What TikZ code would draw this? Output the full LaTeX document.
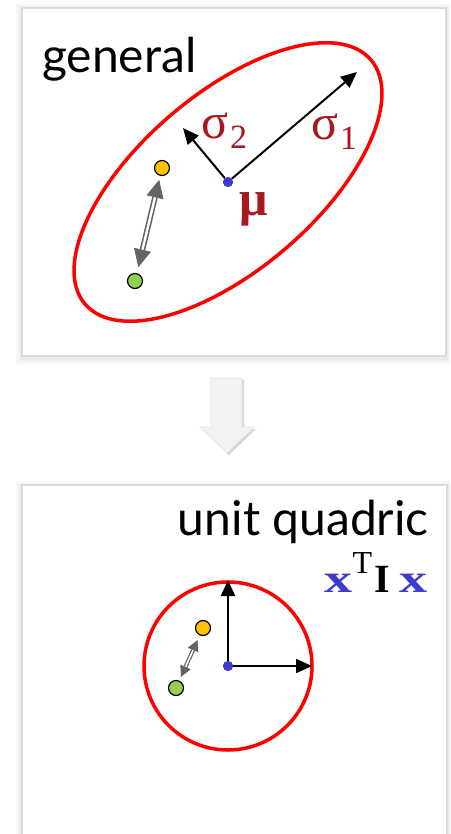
\documentclass[tikz,border=0pt]{standalone}
\usepackage{fontspec}
\setmainfont{Lato}
\newfontfamily\grk{Liberation Serif}
\usetikzlibrary{arrows.meta}
\definecolor{ellred}{RGB}{255,0,0}
\definecolor{lblred}{RGB}{168,24,32}
\definecolor{mublue}{RGB}{60,60,205}
\definecolor{ptorange}{RGB}{255,192,0}
\definecolor{ptgreen}{RGB}{146,208,80}
\definecolor{dblgray}{RGB}{100,100,100}

\begin{document}
\begin{tikzpicture}[x=1pt, y=-1pt, >={Triangle[length=16pt,width=14pt]},
  pt/.style={circle, draw, line width=1.2pt, inner sep=0pt, minimum size=15pt},
  mudot/.style={circle, fill=mublue, inner sep=0pt, minimum size=10pt},
  axis/.style={->, line width=2pt},
  link/.style={{Triangle[length=18pt,width=17pt]}-{Triangle[length=18pt,width=17pt]},
    draw=dblgray, double=white, double distance=2.4pt, line width=1.6pt},
  smalllink/.style={{Triangle[length=11pt,width=11pt]}-{Triangle[length=11pt,width=11pt]},
    draw=dblgray, double=white, double distance=1.6pt, line width=1.2pt},
  lbl/.style={text=lblred, font=\grk\fontsize{50}{50}\selectfont, inner sep=0pt, anchor=base west},
  title/.style={font=\fontsize{48}{48}\selectfont, inner sep=0pt}]
\clip (0,0) rectangle (450,834);
\fill[white] (0,0) rectangle (450,834);
% panels
\foreach \d/\o in {6/3,4/5,2/8} {
  \fill[black!\o] (22-\d,8-\d+2) rectangle (446+\d,356+\d+2);
  \fill[black!\o] (22-\d,485-\d+2) rectangle (447+\d,860);
}
\fill[white, draw=black!14, line width=1.2pt] (22,8) rectangle (446,356);
\fill[white, draw=black!14, line width=1.2pt] (22,485) rectangle (447,860);
% down arrow
\fill[black!16] (213,380) -- (244,380) -- (244,429) -- (256,429) -- (229,455)
  -- (202,429) -- (213,429) -- cycle;
\fill[black!5, draw=black!10, line width=0.6pt] (211,378) -- (242,378) -- (242,427)
  -- (254,427) -- (227,453) -- (200,427) -- (211,427) -- cycle;

% general
\node[title, anchor=base west] (gen) at (42,73) {general};
\node[mudot] (mu) at (228,182) {};
\draw[ellred, line width=3.5pt, rotate around={40.5:(mu)}] (mu) ellipse [x radius=188, y radius=88];
\coordinate (s1) at (357,72);
\coordinate (s2) at (183,128);
\draw[axis] (mu) -- (s1);
\draw[axis] (mu) -- (s2);
\node[mudot] at (mu) {};
\node[lbl] (sig1) at (311,140) {σ\hspace{2pt}\raisebox{-10pt}{\fontsize{34}{34}\selectfont 1}};
\node[lbl] (sig2) at (201,139) {σ\hspace{2pt}\raisebox{-10pt}{\fontsize{34}{34}\selectfont 2}};
\node[lbl, font=\grk\bfseries\fontsize{50}{50}\selectfont] (mulbl) at (239,215) {μ};
\node[pt, fill=ptorange] (org) at (162,168) {};
\node[pt, fill=ptgreen] (grn) at (135,281) {};
\draw[link, shorten <=6pt, shorten >=4pt] (grn) -- (org);

% unit quadric
\node[title, anchor=base east] (uq) at (429,535) {unit quadric};
\node[inner sep=0pt, anchor=base east, font=\grk\bfseries\fontsize{40}{40}\selectfont] (quad) at (428,592)
  {\textcolor{mublue}{\scalebox{1.4}[1]{x}}\raisebox{19pt}{\fontsize{32}{32}\mdseries\selectfont T}\hspace{2pt}{\fontsize{40}{40}\selectfont I}\hspace{10pt}\textcolor{mublue}{\scalebox{1.4}[1]{x}}};
\node[mudot] (mub) at (228,666) {};
\draw[ellred, line width=3.5pt] (mub) circle [radius=84];
\coordinate (u1) at (312,666);
\coordinate (u2) at (228,580);
\draw[axis] (mub) -- (u1);
\draw[axis] (mub) -- (u2);
\node[mudot] at (mub) {};
\node[pt, fill=ptorange] (orgb) at (203,628) {};
\node[pt, fill=ptgreen] (grnb) at (176,688) {};
\draw[smalllink, shorten <=4pt, shorten >=5pt] (grnb) -- (orgb);
\end{tikzpicture}
\end{document}
